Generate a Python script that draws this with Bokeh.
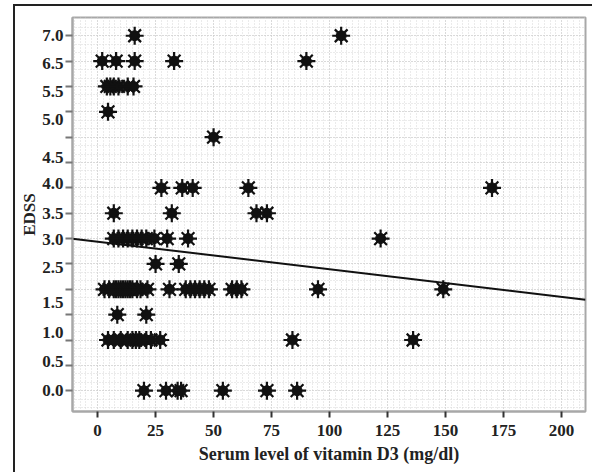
import numpy as np
from bokeh.plotting import figure
from bokeh.models import Range1d, FixedTicker, SingleIntervalTicker
from bokeh.embed import file_html
from bokeh.resources import INLINE

# ---- data ----
vitamin_d3 = [16, 105,
              2, 8, 16, 33, 90,
              4, 5.5, 7, 9, 13, 15.5,
              4.5,
              50,
              27.5, 36.5, 41, 65, 170,
              7, 32, 68.5, 73,
              7, 9, 11, 13, 15, 17, 19, 21, 24.5, 30, 39, 122,
              25, 35,
              3, 5, 7, 8, 9, 10, 11, 12, 13, 14, 15, 17, 18.5, 21.5, 31, 38, 40, 42,
              44, 46, 48, 58, 60, 62, 95, 149,
              8.5, 21,
              4.5, 7, 10, 13, 15, 16.5, 18, 21, 23, 27, 84, 136,
              20, 29.5, 34.5, 36, 54, 73, 86]
edss = [7.0] * 2 + [6.5] * 5 + [6.0] * 6 + [5.5] * 1 + [5.0] * 1 + [4.0] * 5 + \
       [3.5] * 4 + [3.0] * 12 + [2.5] * 2 + [2.0] * 26 + [1.5] * 2 + [1.0] * 12 + [0.0] * 7

fit_intercept = 2.94
fit_slope = -0.00545

x_ticks = [0, 25, 50, 75, 100, 125, 150, 175, 200]
y_tick_labels = ["7.0", "6.5", "5.5", "5.0", "4.5", "4.0", "3.5", "3.0", "2.5", "1.5", "1.0", "0.5", "0.0"]
y_label_pos = [7.0, 6.45, 5.9, 5.35, 4.6, 4.08, 3.5, 2.98, 2.43, 1.73, 1.14, 0.57, 0.0]
y_tick_marks = [i * 0.5 for i in range(15)]

X_MIN, X_MAX = -10.8, 210.3
Y_MIN, Y_MAX = -0.41, 7.36

FONT = "Liberation Serif"

p = figure(width=592, height=472, output_backend="svg", toolbar_location=None,
           x_range=Range1d(X_MIN, X_MAX), y_range=Range1d(Y_MIN, Y_MAX),
           min_border_left=72, min_border_right=7, min_border_top=17, min_border_bottom=61,
           background_fill_color="white", border_fill_color=None)

# outer panel frame (thin dark lines on the left and top), drawn by CSS behind the transparent canvas
p.styles = {
    "background-color": "white",
    "background-image": "linear-gradient(#222222, #222222), linear-gradient(#222222, #222222)",
    "background-size": "2px 100%, 100% 2px",
    "background-position": "13px 5px, 13px 4px",
    "background-repeat": "no-repeat",
}

p.outline_line_color = "#a8a8a8"
p.outline_line_width = 2

# grids
p.xgrid.ticker = SingleIntervalTicker(interval=25, num_minor_ticks=10)
p.ygrid.ticker = SingleIntervalTicker(interval=0.5, num_minor_ticks=3)
for g in (p.xgrid, p.ygrid):
    g.grid_line_color = "#c8c8c8"
    g.grid_line_dash = "1 2"
    g.grid_line_width = 1
    g.minor_grid_line_color = "#d6d6d6"
    g.minor_grid_line_dash = "1 2"
    g.minor_grid_line_width = 1

# x axis
xa = p.xaxis[0]
xa.ticker = FixedTicker(ticks=x_ticks)
xa.axis_line_color = "#a8a8a8"
xa.axis_line_width = 2
xa.major_tick_line_color = "#333333"
xa.major_tick_line_width = 2
xa.major_tick_out = 6
xa.major_tick_in = 0
xa.minor_tick_line_color = None
xa.major_label_text_font = FONT
xa.major_label_text_font_style = "bold"
xa.major_label_text_font_size = "17px"
xa.major_label_text_color = "#222222"
xa.major_label_standoff = 7
xa.axis_label = "Serum level of vitamin D3 (mg/dl)"
xa.axis_label_text_font = FONT
xa.axis_label_text_font_style = "bold"
xa.axis_label_text_font_size = "18px"
xa.axis_label_text_color = "#222222"
xa.axis_label_standoff = 5

# y axis
ya = p.yaxis[0]
ya.ticker = FixedTicker(ticks=y_label_pos, minor_ticks=y_tick_marks)
ya.major_label_overrides = {pos: lab for pos, lab in zip(y_label_pos, y_tick_labels)}
ya.axis_line_color = "#a8a8a8"
ya.axis_line_width = 2
ya.major_tick_line_color = None
ya.major_tick_out = 8
ya.major_tick_in = 0
ya.minor_tick_line_color = "#777777"
ya.minor_tick_line_width = 2
ya.minor_tick_out = 7
ya.minor_tick_in = 0
ya.major_label_text_font = FONT
ya.major_label_text_font_style = "bold"
ya.major_label_text_font_size = "17px"
ya.major_label_text_color = "#222222"
ya.major_label_standoff = 1
ya.axis_label = "EDSS"
ya.axis_label_text_font = FONT
ya.axis_label_text_font_style = "bold"
ya.axis_label_text_font_size = "17px"
ya.axis_label_text_color = "#222222"
ya.axis_label_standoff = 0

# regression line
fx = np.array([X_MIN, X_MAX])
fy = fit_intercept + fit_slope * fx
p.line(fx, fy, line_color="#111111", line_width=2)

# points
p.scatter(vitamin_d3, edss, marker="circle", size=10, fill_color="#111111", line_color="#111111")
p.scatter(vitamin_d3, edss, marker="asterisk", size=18, line_color="#111111", line_width=2.2)

open("out.html", "w").write(file_html(p, INLINE))
